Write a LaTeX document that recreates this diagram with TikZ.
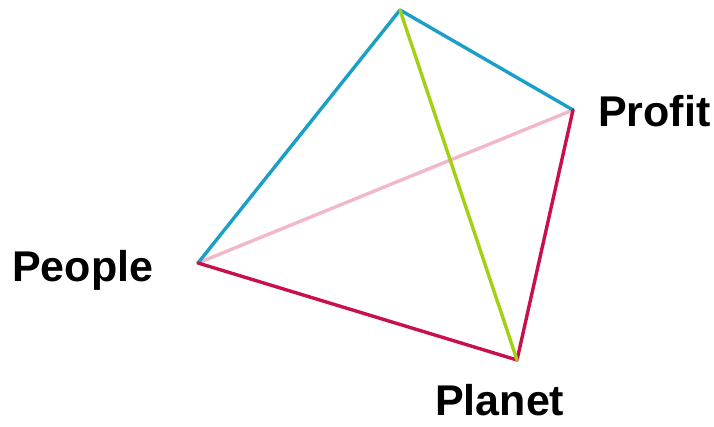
\documentclass[tikz,border=0pt]{standalone}
\usepackage{fontspec}
\setmainfont{Liberation Sans}
\usetikzlibrary{positioning}
\definecolor{cEdgeBlue} {HTML}{1AA0C8}
\definecolor{cEdgeGreen}{HTML}{A2D014}
\definecolor{cEdgePink} {HTML}{F2B8C8}
\definecolor{cEdgeRed}  {HTML}{C8104A}
\definecolor{cText}     {HTML}{000000}
\tikzset{
  edge/.style={line width=3.4pt, line cap=round, line join=round},
  pillar/.style={font=\fontsize{43}{50}\selectfont\bfseries, text=cText, inner sep=0pt, anchor=base west},
}
\begin{document}
\begin{tikzpicture}[x=1pt, y=1pt]
  \useasboundingbox (0,0) rectangle (714,427);
  % corners of the tetrahedron
  \coordinate (apex)   at (400,417);
  \coordinate (profit) at (573,317);
  \coordinate (people) at (198,164);
  \coordinate (planet) at (517,67);
  % hidden edge first
  \draw[edge, draw=cEdgePink] (people) -- (profit);
  \draw[edge, draw=cEdgeBlue] (people) -- (apex) -- (profit);
  \draw[edge, draw=cEdgeRed]  (people) -- (planet) -- (profit);
  \draw[edge, draw=cEdgeGreen] (apex) -- (planet);
  % labels
  \node[pillar] (lprofit) at (598,300) {Profit};
  \node[pillar] (lpeople) at (12,145) {People};
  \node[pillar] (lplanet) at (435,11) {Planet};
\end{tikzpicture}
\end{document}
